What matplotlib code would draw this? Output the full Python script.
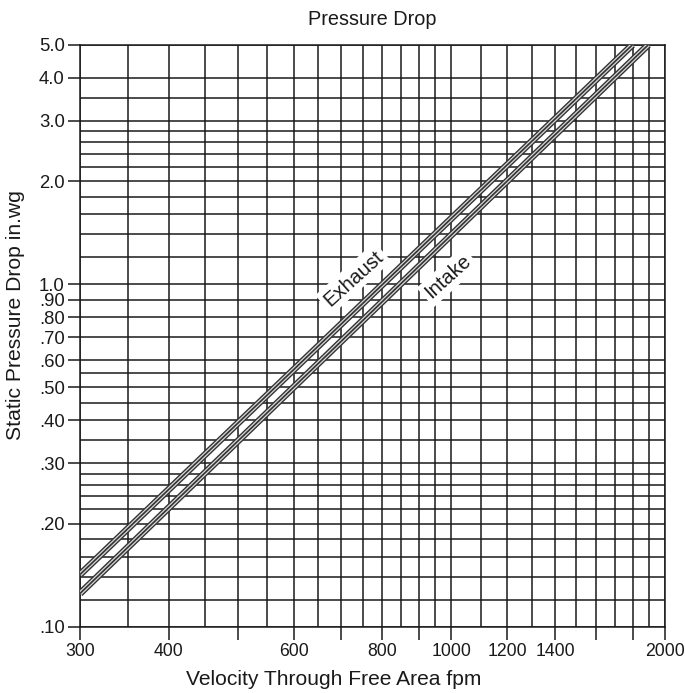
import numpy as np
import matplotlib
matplotlib.use("Agg")
import matplotlib.pyplot as plt
from matplotlib.ticker import FixedLocator, NullLocator

plt.rcParams['font.family'] = ['Liberation Sans', 'DejaVu Sans']

# 軸の範囲と目盛り
x_limits = [300, 2000]
y_limits = [0.10, 5.0]
x_ticks = [300, 400, 500, 600, 700, 800, 900, 1000, 1200, 1400, 1600, 1800, 2000]
x_labels = ['300', '400', '', '600', '', '800', '', '1000', '1200', '1400', '', '', '2000']
y_ticks = [0.10, 0.20, 0.30, 0.40, 0.50, 0.60, 0.70, 0.80, 0.90, 1.0, 2.0, 3.0, 4.0, 5.0]
y_labels = ['.10', '.20', '.30', '.40', '.50', '.60', '.70', '.80', '.90',
            '1.0', '2.0', '3.0', '4.0', '5.0']

# 方眼の線
x_grid = [300, 350, 400, 450, 500, 550, 600, 650, 700, 750, 800, 850, 900, 950,
          1000, 1100, 1200, 1300, 1400, 1500, 1600, 1700, 1800, 1900, 2000]
y_grid = [0.10, 0.12, 0.14, 0.16, 0.18, 0.20, 0.22, 0.24, 0.26, 0.28, 0.30,
          0.35, 0.40, 0.45, 0.50, 0.55, 0.60, 0.70, 0.80, 0.90,
          1.0, 1.2, 1.4, 1.6, 1.8, 2.0, 2.2, 2.4, 2.6, 2.8, 3.0, 3.5, 4.0, 5.0]

# 圧損の線 (両端の読み取り値)
exhaust_v = [300, 1800]
exhaust_dp = [0.142, 5.0]
intake_v = [300, 1895]
intake_dp = [0.125, 5.0]

# ラベル位置
exhaust_label = (728, 1.04)
intake_label = (990, 1.05)

W, H = 685, 693


def draw_double(ax, v, dp):
    # 二重線: 外側の濃い線、明るい隙間、中心の細線
    ax.plot(v, dp, color='#333333', lw=5.0, solid_capstyle='butt', zorder=3)
    ax.plot(v, dp, color='#d8d8d8', lw=3.0, solid_capstyle='butt', zorder=4)
    ax.plot(v, dp, color='#333333', lw=1.2, solid_capstyle='butt', zorder=5)


fig = plt.figure(figsize=(W / 100, H / 100), dpi=100)
ax = fig.add_axes([80 / W, 66.3 / H, 585 / W, 582 / H])
ax.set_xscale('log')
ax.set_yscale('log')
ax.set_xlim(x_limits)
ax.set_ylim(y_limits)

for gx in x_grid:
    ax.axvline(gx, color='#1a1a1a', lw=1.1, zorder=1)
for gy in y_grid:
    ax.axhline(gy, color='#1a1a1a', lw=1.1, zorder=1)

draw_double(ax, exhaust_v, exhaust_dp)
draw_double(ax, intake_v, intake_dp)

ax.text(*exhaust_label, 'Exhaust', rotation=42, fontsize=14.5, ha='center', va='center',
        rotation_mode='anchor', color='#1a1a1a',
        bbox=dict(facecolor='white', edgecolor='none', pad=2.5), zorder=6)
ax.text(*intake_label, 'Intake', rotation=42, fontsize=14.5, ha='center', va='center',
        rotation_mode='anchor', color='#1a1a1a',
        bbox=dict(facecolor='white', edgecolor='none', pad=2.5), zorder=6)

ax.xaxis.set_major_locator(FixedLocator(x_ticks))
ax.xaxis.set_minor_locator(NullLocator())
ax.set_xticklabels(x_labels)
ax.yaxis.set_major_locator(FixedLocator(y_ticks))
ax.yaxis.set_minor_locator(NullLocator())
ax.set_yticklabels(y_labels)
ax.tick_params(axis='both', direction='out', length=9, width=1.1,
               color='#1a1a1a', labelcolor='#1a1a1a', pad=2)
ax.tick_params(axis='x', labelsize=12.7, pad=3)
ax.tick_params(axis='y', labelsize=13.3)

for sp in ax.spines.values():
    sp.set_color('#1a1a1a')
    sp.set_linewidth(1.1)

# タイトルと軸ラベル (元図の位置に合わせる)
fig.text(372.5 / W, 1 - 25 / H, 'Pressure Drop', fontsize=14.3,
         ha='center', va='baseline', color='#1a1a1a')
fig.text(334 / W, 1 - 685 / H, 'Velocity Through Free Area fpm', fontsize=15.1,
         ha='center', va='baseline', color='#1a1a1a')
fig.text(16 / W, 1 - 315 / H, 'Static Pressure Drop in.wg', fontsize=15.2,
         rotation=90, ha='center', va='center', color='#1a1a1a')

fig.savefig('out.png', dpi=100)
